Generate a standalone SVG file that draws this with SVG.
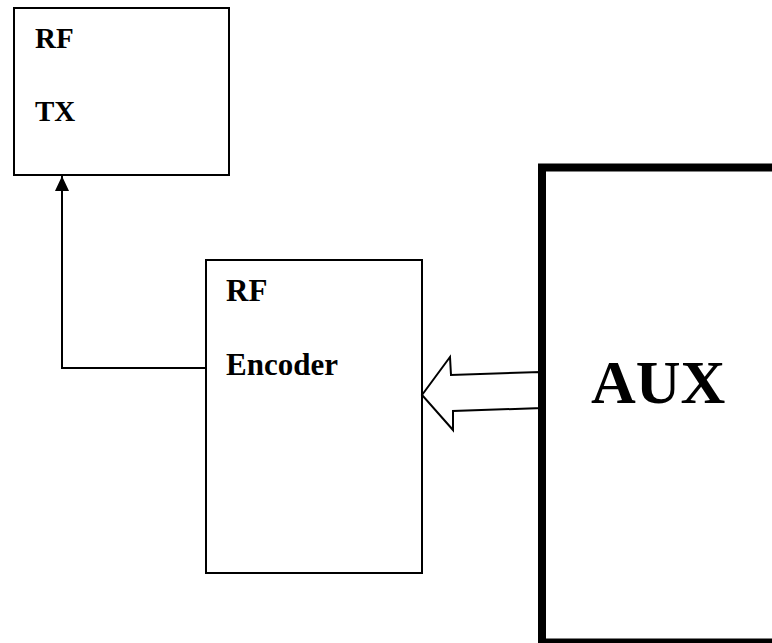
<svg xmlns="http://www.w3.org/2000/svg" width="772" height="643" viewBox="0 0 772 643">
<style>
.box{fill:#fff;stroke:#000;stroke-width:2}
.lbl{font-family:"Liberation Serif","Times New Roman",serif;font-weight:bold;fill:#000}
.wire{fill:none;stroke:#000;stroke-width:2}
</style>
<defs>
<marker id="ah" markerUnits="userSpaceOnUse" markerWidth="16" markerHeight="16" refX="15" refY="7" orient="auto">
<path d="M0,0 L15,7 L0,14 Z" fill="#000"/>
</marker>
</defs>
<rect width="772" height="643" fill="#fff"/>
<g id="rftx">
<rect class="box" x="14" y="8" width="215" height="167"/>
<text class="lbl" x="35" y="48" font-size="29">RF</text>
<text class="lbl" x="35" y="121" font-size="29">TX</text>
</g>
<g id="encoder">
<rect class="box" x="206" y="260" width="216" height="313"/>
<text class="lbl" x="226" y="301" font-size="31">RF</text>
<text class="lbl" x="226" y="375" font-size="31">Encoder</text>
</g>
<g id="connectors">
<polyline class="wire" points="206,368 62,368 62,176" marker-end="url(#ah)"/>
<polygon class="wire" style="fill:#fff" points="422,395 450,357 451,375 540,372 542,408 453,411 453,430"/>
</g>
<g id="aux">
<rect x="542" y="167.5" width="300" height="475" fill="#fff" stroke="#000" stroke-width="8"/>
<text class="lbl" x="591" y="403" font-size="62">AUX</text>
</g>
</svg>
